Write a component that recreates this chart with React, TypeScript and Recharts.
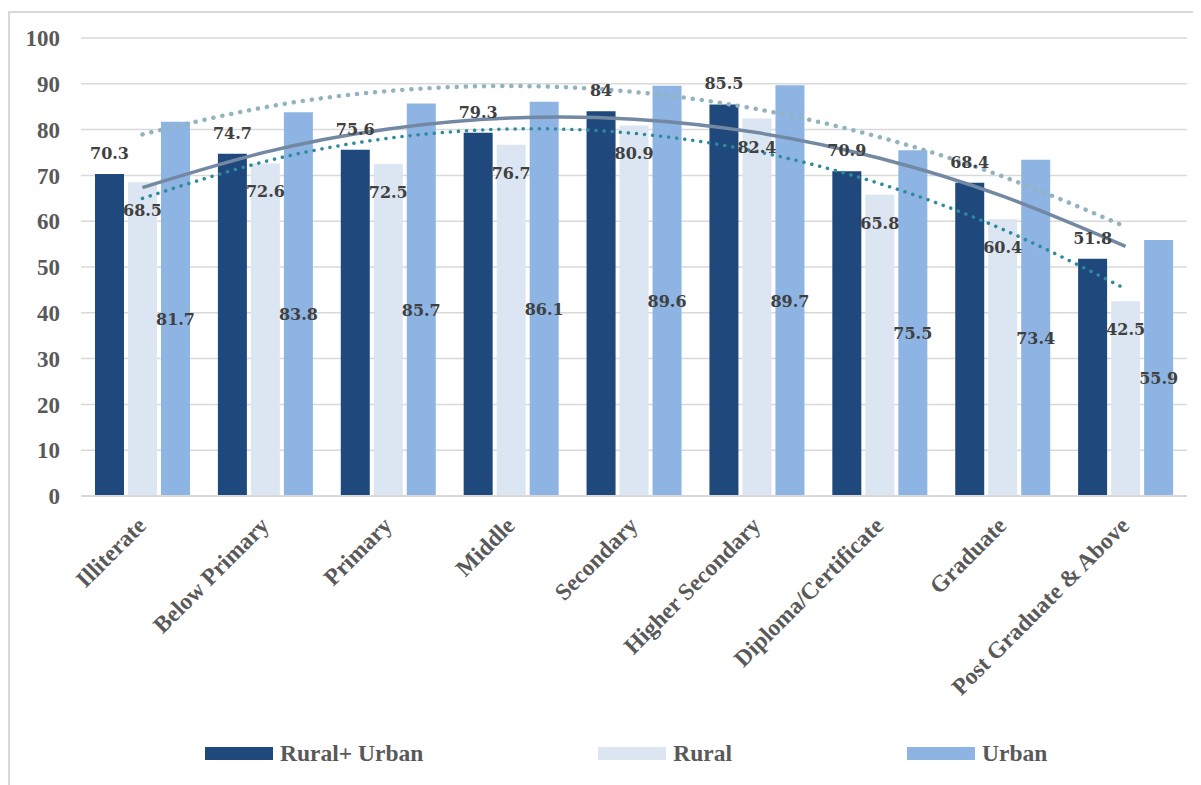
import React from 'react';
import {
  ComposedChart,
  Bar,
  Line,
  XAxis,
  YAxis,
  CartesianGrid,
  LabelList,
} from 'recharts';

const CATEGORIES = [
  'Illiterate',
  'Below Primary',
  'Primary',
  'Middle',
  'Secondary',
  'Higher Secondary',
  'Diploma/Certificate',
  'Graduate',
  'Post Graduate & Above',
];

const RURAL_URBAN = [70.3, 74.7, 75.6, 79.3, 84, 85.5, 70.9, 68.4, 51.8];
const RURAL = [68.5, 72.6, 72.5, 76.7, 80.9, 82.4, 65.8, 60.4, 42.5];
const URBAN = [81.7, 83.8, 85.7, 86.1, 89.6, 89.7, 75.5, 73.4, 55.9];

const Y_TICKS = [0, 10, 20, 30, 40, 50, 60, 70, 80, 90, 100];

const SERIES = [
  { key: 'ruralUrban', name: 'Rural+ Urban', color: '#1F497D' },
  { key: 'rural', name: 'Rural', color: '#DCE6F2' },
  { key: 'urban', name: 'Urban', color: '#8EB4E3' },
];

const SERIF = "'Liberation Serif', 'Times New Roman', serif";
const LABEL_FONT = "'DejaVu Serif', Cambria, serif";
const AXIS_GREY = '#595959';

// 2nd order polynomial trendline (least squares), like Excel's
function polyTrend(values: number[]): number[] {
  const n = values.length;
  const mid = (n - 1) / 2;
  const t = values.map((_, i) => i - mid);
  const s2 = t.reduce((s, v) => s + v * v, 0);
  const s4 = t.reduce((s, v) => s + v ** 4, 0);
  const sy = values.reduce((s, v) => s + v, 0);
  const sty = values.reduce((s, v, i) => s + t[i] * v, 0);
  const st2y = values.reduce((s, v, i) => s + t[i] * t[i] * v, 0);
  const b = sty / s2;
  const c = (st2y - (s2 * sy) / n) / (s4 - (s2 * s2) / n);
  const a = (sy - c * s2) / n;
  return t.map((x) => a + b * x + c * x * x);
}

const trendRU = polyTrend(RURAL_URBAN);
const trendR = polyTrend(RURAL);
const trendU = polyTrend(URBAN);

const data = CATEGORIES.map((name, i) => ({
  name,
  ruralUrban: RURAL_URBAN[i],
  rural: RURAL[i],
  urban: URBAN[i],
  trendRU: trendRU[i],
  trendR: trendR[i],
  trendU: trendU[i],
}));

type LabelProps = {
  x?: number;
  y?: number;
  width?: number;
  height?: number;
  value?: number | string;
  viewBox?: { x: number; y: number; width: number; height: number };
};

function makeLabel(where: 'above' | 'insideTop' | 'middle') {
  return (props: LabelProps) => {
    const vb = props.viewBox || (props as any);
    const x = Number(vb.x);
    const y = Number(vb.y);
    const w = Number(vb.width);
    const h = Number(vb.height);
    let ty = y - 15;
    if (where === 'insideTop') ty = y + 34;
    if (where === 'middle') ty = y + h / 2 + 16;
    return (
      <text
        x={x + w / 2}
        y={ty}
        textAnchor="middle"
        fill="#404040"
        fontSize={16}
        fontWeight="bold"
        fontFamily={LABEL_FONT}
      >
        {props.value}
      </text>
    );
  };
}

function CategoryTick({ x, y, payload }: { x?: number; y?: number; payload?: { value: string } }) {
  const ax = (x || 0) + 5;
  const ay = (y || 0) + 31;
  return (
    <text
      x={ax}
      y={ay}
      transform={`rotate(-45, ${ax}, ${ay})`}
      textAnchor="end"
      fill={AXIS_GREY}
      fontSize={23.5}
      fontWeight="bold"
      fontFamily={SERIF}
    >
      {payload?.value}
    </text>
  );
}

export default function App() {
  return (
    <div style={{ position: 'relative', width: 1193, height: 777, overflow: 'hidden', fontFamily: SERIF }}>
      {/* chart frame */}
      <div
        style={{
          position: 'absolute',
          left: 0,
          top: 3,
          right: 0,
          bottom: 0,
          borderTop: '2px solid #D9D9D9',
          borderLeft: '2px solid #D9D9D9',
        }}
      />
      <div style={{ position: 'absolute', left: 0, top: 0 }}>
        <ComposedChart
          width={1193}
          height={700}
          data={data}
          margin={{ top: 30, right: 14, left: 0, bottom: 0 }}
          barSize={29}
          barGap={4}
        >
          <CartesianGrid vertical={false} stroke="#D9D9D9" strokeWidth={1.5} />
          <XAxis
            dataKey="name"
            interval={0}
            height={212}
            tickSize={0}
            tickMargin={0}
            tickLine={false}
            axisLine={{ stroke: '#D9D9D9', strokeWidth: 2 }}
            tick={<CategoryTick />}
          />
          <YAxis
            width={73}
            domain={[0, 100]}
            ticks={Y_TICKS}
            interval={0}
            axisLine={false}
            tickLine={false}
            tickSize={6}
            tickMargin={15}
            tick={{ fill: AXIS_GREY, fontSize: 23, fontWeight: 'bold', fontFamily: SERIF }}
          />
          <Bar dataKey="ruralUrban" fill={SERIES[0].color} isAnimationActive={false}>
            <LabelList dataKey="ruralUrban" content={makeLabel('above')} />
          </Bar>
          <Bar dataKey="rural" fill={SERIES[1].color} isAnimationActive={false}>
            <LabelList dataKey="rural" content={makeLabel('insideTop')} />
          </Bar>
          <Bar dataKey="urban" fill={SERIES[2].color} isAnimationActive={false}>
            <LabelList dataKey="urban" content={makeLabel('middle')} />
          </Bar>
          <Line
            dataKey="trendU"
            type="natural"
            stroke="#93B4BF"
            strokeWidth={4.5}
            strokeDasharray="0.1 9"
            strokeLinecap="round"
            dot={false}
            activeDot={false}
            isAnimationActive={false}
          />
          <Line
            dataKey="trendR"
            type="natural"
            stroke="#2E8A9C"
            strokeWidth={3.5}
            strokeDasharray="0.1 8"
            strokeLinecap="round"
            dot={false}
            activeDot={false}
            isAnimationActive={false}
          />
          <Line
            dataKey="trendRU"
            type="natural"
            stroke="#7389A3"
            strokeWidth={3.5}
            dot={false}
            activeDot={false}
            isAnimationActive={false}
          />
        </ComposedChart>
      </div>

      {/* legend */}
      <div
        style={{
          position: 'absolute',
          left: 197,
          top: 734,
          display: 'flex',
          alignItems: 'center',
          gap: 175,
        }}
      >
        {SERIES.map((s) => (
          <div key={s.key} style={{ display: 'flex', alignItems: 'center', gap: 7 }}>
            <div style={{ width: 68, height: 13, background: s.color }} />
            <span style={{ fontSize: 23.5, fontWeight: 'bold', color: AXIS_GREY, lineHeight: '23px' }}>
              {s.name}
            </span>
          </div>
        ))}
      </div>
    </div>
  );
}
